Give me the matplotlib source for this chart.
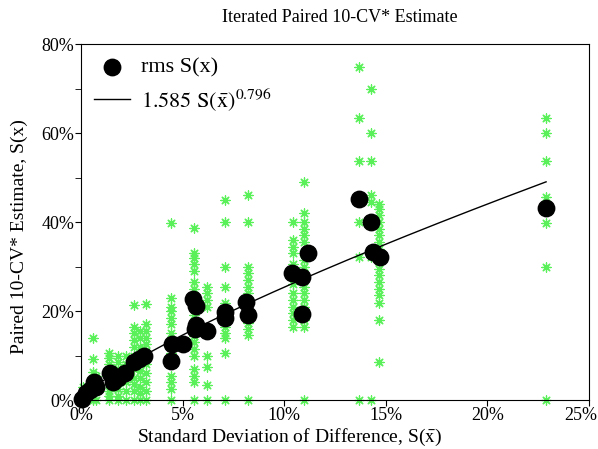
import numpy as np
import matplotlib
matplotlib.use("Agg")
import matplotlib.pyplot as plt
import matplotlib.transforms as mtransforms
from matplotlib.ticker import FixedLocator, MultipleLocator, FuncFormatter

plt.rcParams["font.family"] = ["Liberation Serif", "DejaVu Serif"]
plt.rcParams["mathtext.fontset"] = "stix"

# rms of the iterated estimates per experiment (percent)
rms_x = [0.05, 0.25, 0.45, 0.65, 0.75, 1.45, 1.55, 1.8, 2.15, 2.6, 2.85, 3.1,
         4.45, 4.5, 5.0, 5.5, 5.65, 5.6, 5.65, 6.2, 7.1, 7.1, 8.1, 8.2,
         10.4, 10.9, 10.9, 11.2, 13.7, 14.3, 14.4, 14.7, 22.9]
rms_y = [0.3, 1.5, 2.3, 4.0, 3.0, 6.1, 4.1, 5.0, 6.1, 8.5, 9.3, 10.0,
         8.8, 12.7, 12.6, 22.7, 21.1, 15.9, 16.9, 15.5, 19.8, 18.4, 22.1, 19.1,
         28.5, 27.7, 19.3, 33.0, 45.2, 40.0, 33.3, 32.2, 43.1]

# individual estimates, grouped by the standard deviation column they belong to
est_cols = [0.1, 0.3, 0.6, 0.75, 1.4, 1.8, 2.2, 2.6, 2.9, 3.2,
            4.45, 5.55, 6.2, 7.1, 8.2, 10.45, 11.0, 13.7, 14.3, 14.65, 22.9]
est_vals = [
    [0, 1, 2, 3],
    [0, 1, 2, 3],
    [0, 1.5, 3, 4.5, 6.4, 9.2, 14],
    [0, 2, 4, 5.5],
    [0, 1, 2, 3.5, 5, 6.5, 8, 9.5, 10.5],
    [0, 1, 2.5, 4, 5.5, 7, 8.5, 10],
    [0, 2, 4, 6, 8, 10],
    [0, 2, 3.5, 5, 7, 8.5, 10, 12, 13.5, 15, 16.5, 21.3],
    [0, 1.5, 3, 5, 6.5, 8, 10.5, 12, 14, 15.5],
    [0, 2, 4, 6, 8, 11, 12.5, 14, 15.5, 17, 21.6],
    [0, 2.5, 4, 5.5, 9, 10.5, 12, 13.5, 15, 17, 18.5, 20, 21, 22.9, 39.8],
    [0, 4, 5.5, 7, 10, 11.5, 13, 14.5, 16, 17.5, 19, 20.5, 22, 23.5, 25,
     26.5, 29, 30.5, 32, 33, 38.6],
    [0, 3.4, 7.4, 10, 15.7, 21, 22.5, 24, 25.5],
    [0, 10.6, 14, 15, 16.5, 18, 19.5, 21.8, 25.5, 30, 40, 45],
    [0, 14.6, 16, 17.3, 22.5, 24, 25.5, 27, 28.5, 30, 40, 46],
    [16.5, 18, 19.5, 21, 22.5, 24, 26, 29, 30.5, 33, 34.5, 36, 40],
    [0, 16.5, 18, 19.5, 21, 22.5, 24, 25.5, 27, 28.5, 30, 31.5, 33, 35.6,
     37, 38.5, 40, 42, 49],
    [0, 32.2, 40, 53.7, 63.3, 74.9],
    [0, 32.2, 40, 44.6, 46, 53.7, 60, 70],
    [8.6, 18, 21.8, 23.6, 25, 26.5, 28, 29.5, 31, 32.5, 34, 35.5, 37, 38.5,
     40, 41.5, 43, 44],
    [0, 30, 39.8, 45.7, 53.8, 60, 63.3],
]

x_ticks = [0, 5, 10, 15, 20, 25]
y_ticks = [0, 20, 40, 60, 80]

fit_coef = 1.585
fit_exp = 0.796

fig = plt.figure(figsize=(5.98, 4.49), dpi=100)
ax = fig.add_axes([0.1355, 0.109, 0.849, 0.793])

sx = np.concatenate([[c] * len(v) for c, v in zip(est_cols, est_vals)])
sy = np.concatenate(est_vals)
ax.scatter(sx, sy, marker=(8, 2, 0), s=44, color="#5af05a", linewidths=0.9,
           clip_on=False, zorder=2)

xf = np.linspace(min(rms_x), max(rms_x), 200)
yf = 100 * fit_coef * (xf / 100) ** fit_exp
ax.plot(xf, yf, color="black", lw=1.0, zorder=3,
        label=r"$\mathrm{1.585\ S(\bar{x})^{0.796}}$")

ax.scatter(rms_x, rms_y, s=140, color="black", clip_on=False, zorder=4,
           label="rms S(x)")

ax.set_xlim(0, 25)
ax.set_ylim(0, 80)
ax.xaxis.set_major_locator(FixedLocator(x_ticks))
ax.yaxis.set_major_locator(FixedLocator(y_ticks))
ax.yaxis.set_minor_locator(MultipleLocator(10))
pct = FuncFormatter(lambda v, p: f"{v:.0f}%")
ax.xaxis.set_major_formatter(pct)
ax.yaxis.set_major_formatter(pct)
ax.tick_params(axis="both", which="both", direction="out", labelsize=13,
               pad=1)
ax.tick_params(which="major", length=4)
ax.tick_params(which="minor", length=4)

ax.set_title("Iterated Paired 10-CV* Estimate", fontsize=13, pad=16, x=0.51)
ax.set_xlabel(r"Standard Deviation of Difference, S($\mathrm{\bar{x}}$)",
              fontsize=14)
ax.xaxis.set_label_coords(0.41, -0.075)
ax.set_ylabel("Paired 10-CV* Estimate, S(x)", fontsize=14)
ax.yaxis.set_label_coords(-0.105, 0.458)

handles, labels = ax.get_legend_handles_labels()
ax.legend(handles[::-1], labels[::-1], loc="upper left", frameon=False,
          fontsize=16, handlelength=1.6, handletextpad=0.5, borderaxespad=0.0,
          borderpad=0.6, labelspacing=0.35)

# keep the right-most x tick label inside the figure
fig.canvas.draw()
for lbl in ax.get_xticklabels():
    if lbl.get_text() == "25%":
        lbl.set_transform(lbl.get_transform() + mtransforms.ScaledTranslation(
            -8 / 100, 0, fig.dpi_scale_trans))

fig.savefig("out.png", dpi=100)
